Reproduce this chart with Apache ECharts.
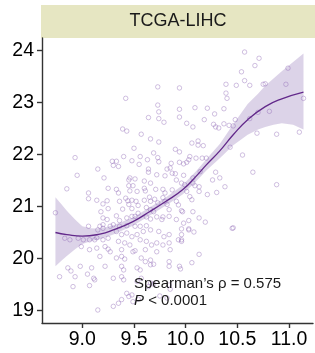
<!DOCTYPE html>
<html>
<head>
<meta charset="utf-8">
<script src="https://cdn.jsdelivr.net/npm/echarts@6/dist/echarts.min.js"></script>
<style>
html, body { margin: 0; padding: 0; background: #fff; }
#chart { width: 315px; height: 353px; }
</style>
</head>
<body>
<div id="chart"></div>
<script>
// x = expression, y = expression (unlabelled axes)
const samples = [
    [9.73, 23.30], [9.94, 23.28], [9.42, 23.08], [9.73, 22.95], [9.94, 22.87], [9.74, 22.82], [9.64, 22.71],
    [9.74, 22.69], [9.94, 22.72], [9.79, 22.62], [9.39, 22.49], [9.43, 22.45], [9.57, 22.39],
    [10.57, 23.97], [10.71, 23.85], [10.67, 23.71], [10.54, 23.59], [10.57, 23.42], [10.62, 23.33], [10.75, 23.35],
    [10.77, 23.36], [10.99, 23.66], [10.97, 23.35], [11.14, 23.08], [10.39, 23.35], [10.49, 23.33], [10.39, 23.18],
    [10.40, 23.08], [10.09, 22.90], [10.21, 22.89], [10.37, 22.88], [10.28, 22.78], [10.18, 22.67], [10.01, 22.60],
    [10.07, 22.53], [10.27, 22.58], [10.29, 22.53], [10.32, 22.51], [10.37, 22.59], [10.42, 22.56], [10.46, 22.55],
    [10.48, 22.67], [10.62, 22.69], [10.70, 22.81], [10.81, 22.83], [10.69, 22.41], [10.88, 22.39], [11.10, 22.43],
    [8.93, 21.94], [8.95, 21.60], [8.85, 21.34], [8.74, 20.88], [9.15, 21.72], [9.21, 21.55], [9.06, 21.26],
    [9.06, 21.15], [9.14, 21.12], [9.20, 21.05], [9.24, 21.11], [9.25, 21.35], [9.18, 20.90], [9.25, 20.96],
    [9.29, 21.87], [9.33, 21.87], [9.35, 21.77], [9.30, 21.79], [9.33, 21.33], [9.35, 21.26], [9.36, 21.10],
    [9.39, 20.95], [9.40, 21.96], [9.48, 21.88], [9.50, 22.12], [9.66, 22.30], [9.74, 22.24], [9.56, 21.96],
    [9.55, 21.81], [9.63, 21.90], [9.64, 21.72], [9.64, 21.66], [9.69, 22.03], [9.73, 21.94], [9.74, 21.86],
    [9.45, 21.51], [9.46, 21.55], [9.51, 21.53], [9.60, 21.49], [9.66, 21.45], [9.72, 21.61], [9.80, 21.59],
    [9.82, 21.72], [9.85, 21.74], [9.90, 22.10], [9.94, 22.05], [9.86, 21.83], [9.87, 21.64], [9.90, 21.63],
    [9.91, 21.51], [9.94, 21.85], [9.96, 21.45], [9.45, 21.40], [9.49, 21.40], [9.46, 21.30], [9.53, 21.29],
    [9.60, 21.35], [9.61, 21.30], [9.71, 21.33], [9.78, 21.33], [9.80, 21.26], [9.87, 21.32], [9.42, 21.16],
    [9.44, 21.11], [9.48, 21.12], [9.52, 21.10], [9.45, 21.04], [9.48, 20.96], [9.54, 21.02], [9.60, 21.12],
    [9.65, 21.18], [9.66, 21.10], [9.62, 20.98], [9.70, 21.14], [9.73, 21.07], [9.78, 21.17], [9.80, 21.10],
    [9.82, 21.04], [9.84, 20.94], [9.91, 21.10], [9.93, 21.03], [9.96, 20.92], [9.66, 20.94], [9.69, 20.90],
    [9.54, 20.87], [9.48, 20.81], [9.51, 20.81], [9.43, 20.78], [9.36, 20.73], [9.33, 20.82], [9.62, 20.80],
    [9.66, 20.76], [9.72, 20.80], [9.77, 20.75], [9.78, 20.80], [9.84, 20.81], [9.91, 20.75], [9.20, 20.78],
    [9.24, 20.75], [9.17, 20.62], [9.20, 20.65], [9.27, 20.62], [9.36, 20.62], [9.43, 20.63], [9.51, 20.62],
    [9.56, 20.62], [9.62, 20.63],
    [10.55, 21.99], [10.43, 22.14], [10.65, 21.66], [10.88, 21.42], [10.06, 22.22], [10.12, 22.26], [10.12, 22.18],
    [10.17, 22.17], [10.04, 21.96], [10.03, 21.90], [9.98, 21.82], [10.01, 21.85], [10.10, 21.93], [10.16, 21.93],
    [10.20, 21.93], [10.29, 21.66], [10.33, 21.55], [10.26, 21.51], [10.14, 21.67], [9.98, 21.60], [10.07, 21.55],
    [10.07, 21.45], [9.99, 21.42], [10.09, 21.40], [10.13, 21.38], [10.01, 21.29], [10.13, 21.29], [10.38, 21.38],
    [10.30, 21.27], [10.21, 21.23], [10.04, 21.19], [10.06, 21.13], [9.97, 20.90], [10.07, 20.90], [10.13, 20.78],
    [10.03, 20.73], [9.98, 20.68], [10.19, 20.70], [10.46, 20.59], [10.03, 20.57],
    [9.06, 20.62], [9.15, 20.55], [9.20, 20.58], [9.30, 20.65], [8.83, 20.39], [8.88, 20.36], [8.96, 20.39],
    [9.01, 20.36], [9.07, 20.36], [9.12, 20.36], [9.14, 20.40], [9.20, 20.36], [9.25, 20.39], [9.33, 20.52],
    [9.38, 20.46], [9.43, 20.49], [9.48, 20.42], [9.53, 20.46], [9.59, 20.52], [9.66, 20.55], [9.74, 20.52],
    [9.79, 20.42], [9.84, 20.46], [9.93, 20.36], [9.96, 20.33], [9.35, 20.33], [9.41, 20.30], [9.46, 20.26],
    [9.56, 20.36], [9.62, 20.33], [9.67, 20.26], [9.72, 20.30], [9.78, 20.26], [9.84, 20.30], [8.99, 20.23],
    [9.07, 20.17], [9.14, 20.20], [9.22, 20.23], [9.25, 20.18], [9.27, 20.13], [9.38, 20.17], [9.49, 20.13],
    [9.51, 20.15], [9.61, 20.17], [9.72, 20.13], [9.85, 20.17], [9.17, 20.04], [9.33, 20.01], [9.38, 20.04],
    [9.41, 19.99], [9.57, 20.01], [9.61, 19.94], [9.66, 19.97], [9.84, 19.94], [8.98, 19.85], [8.86, 19.82],
    [9.09, 19.82], [9.22, 19.85], [9.38, 19.85], [9.40, 19.78], [9.53, 19.82], [9.56, 19.78], [9.66, 19.88],
    [9.69, 19.89], [9.84, 19.85], [8.78, 19.65], [8.93, 19.65], [9.11, 19.62], [9.30, 19.62], [9.38, 19.65],
    [9.40, 19.59], [9.53, 19.56], [9.57, 19.62], [9.66, 19.53], [8.91, 19.46], [9.07, 19.48], [9.12, 19.59],
    [9.43, 19.33], [9.48, 19.30], [9.45, 19.27], [9.38, 19.21], [9.35, 19.14], [9.30, 19.08], [9.15, 19.01],
    [9.49, 19.17], [9.54, 19.22],
    [8.89, 19.76], [9.05, 19.70], [9.94, 19.85], [9.95, 19.80], [9.84, 19.49], [9.85, 19.41], [10.06, 19.92],
    [10.13, 20.08], [9.69, 19.51], [9.64, 19.46], [9.75, 19.28], [9.82, 19.24],
    [9.96, 20.57], [10.03, 20.55], [10.08, 20.51], [9.96, 20.46], [9.96, 20.36], [10.45, 20.58]
]

// loess fit
const fitX = [8.74, 8.85, 9.0, 9.17, 9.3, 9.49, 9.65, 9.81, 9.97, 10.1, 10.2, 10.33, 10.46, 10.6, 10.77, 10.93, 11.14]
const fitY = [20.50, 20.46, 20.43, 20.47, 20.55, 20.71, 20.90, 21.10, 21.32, 21.58, 21.80, 22.07, 22.38, 22.67, 22.92, 23.07, 23.20]

// confidence band of the fit
const bandX = [8.74, 8.8, 8.85, 8.93, 9.0, 9.08, 9.17, 9.3, 9.49, 9.65, 9.81, 9.97, 10.1, 10.2, 10.33, 10.46, 10.6, 10.7, 10.77, 10.85, 10.93, 11.04, 11.14]
const bandLow = [19.85, 19.96, 20.05, 20.18, 20.28, 20.33, 20.37, 20.46, 20.63, 20.82, 21.02, 21.23, 21.48, 21.69, 21.93, 22.18, 22.38, 22.48, 22.53, 22.57, 22.60, 22.57, 22.48]
const bandHigh = [21.18, 21.04, 20.92, 20.75, 20.62, 20.58, 20.57, 20.64, 20.79, 20.98, 21.18, 21.41, 21.68, 21.91, 22.20, 22.58, 22.97, 23.17, 23.32, 23.46, 23.60, 23.78, 23.94]

const xTicks = [9.0, 9.5, 10.0, 10.5, 11.0]
const yTicks = [19, 20, 21, 22, 23, 24]

const axisColor = '#333'
const font = 'Liberation Sans, Arial, sans-serif'

const chart = echarts.init(document.getElementById('chart'), null, { renderer: 'canvas' })

chart.setOption({
    animation: false,
    backgroundColor: '#fff',
    grid: {
        left: 42,
        right: 2,
        top: 38,
        bottom: 30,
        containLabel: false,
    },
    xAxis: {
        type: 'value',
        min: 8.61,
        max: 11.232,
        splitLine: { show: false },
        axisLine: { show: true, onZero: false, lineStyle: { color: axisColor, width: 1.4 } },
        axisTick: { show: true, customValues: xTicks, length: 5, lineStyle: { color: axisColor, width: 1.4 } },
        axisLabel: {
            customValues: xTicks,
            formatter: v => v.toFixed(1),
            fontSize: 19.5,
            color: '#000',
            margin: 7,
            fontFamily: font,
        },
    },
    yAxis: {
        type: 'value',
        min: 18.76,
        max: 24.24,
        splitLine: { show: false },
        axisLine: { show: true, onZero: false, lineStyle: { color: axisColor, width: 1.4 } },
        axisTick: { show: true, customValues: yTicks, length: 5, lineStyle: { color: axisColor, width: 1.4 } },
        axisLabel: {
            customValues: yTicks,
            formatter: v => String(v),
            fontSize: 19.5,
            color: '#000',
            margin: 8,
            fontFamily: font,
        },
    },
    graphic: [
        {
            type: 'rect',
            shape: { x: 41, y: 5, width: 274, height: 33 },
            style: { fill: '#e6e6c2' },
            silent: true,
        },
        {
            type: 'text',
            x: 178,
            y: 21.5,
            style: {
                text: 'TCGA-LIHC',
                fontSize: 18,
                fontFamily: font,
                fill: '#1a1a1a',
                align: 'center',
                verticalAlign: 'middle',
            },
            silent: true,
        },
        {
            type: 'text',
            x: 134,
            y: 284,
            z: 10,
            style: {
                text: 'Spearman\u2019s \u03C1 = 0.575',
                fontSize: 15,
                fontFamily: font,
                fill: '#1a1a1a',
                verticalAlign: 'middle',
            },
            silent: true,
        },
        {
            type: 'text',
            x: 134,
            y: 300.5,
            z: 10,
            style: {
                text: '{i|P} < 0.0001',
                fontSize: 15,
                fontFamily: font,
                fill: '#1a1a1a',
                verticalAlign: 'middle',
                rich: {
                    i: { fontStyle: 'italic', fontSize: 15, fontFamily: font, fill: '#1a1a1a' },
                },
            },
            silent: true,
        },
    ],
    series: [
        {
            type: 'scatter',
            data: samples,
            symbol: 'circle',
            symbolSize: 4.5,
            itemStyle: {
                color: 'rgba(255,255,255,0)',
                borderColor: 'rgba(140,100,180,0.5)',
                borderWidth: 1,
            },
            silent: true,
        },
        {
            type: 'custom',
            data: [0],
            silent: true,
            renderItem: (params, api) => {
                const pts = []
                for (let i = 0; i < bandX.length; i++) {
                    pts.push(api.coord([bandX[i], bandLow[i]]))
                }
                for (let i = bandX.length - 1; i >= 0; i--) {
                    pts.push(api.coord([bandX[i], bandHigh[i]]))
                }
                return {
                    type: 'polygon',
                    shape: { points: pts },
                    style: { fill: 'rgba(150,120,185,0.33)' },
                }
            },
        },
        {
            type: 'line',
            data: fitX.map((x, i) => [x, fitY[i]]),
            smooth: true,
            showSymbol: false,
            lineStyle: { color: '#62288a', width: 1.3 },
            silent: true,
        },
    ],
})
</script>
</body>
</html>
